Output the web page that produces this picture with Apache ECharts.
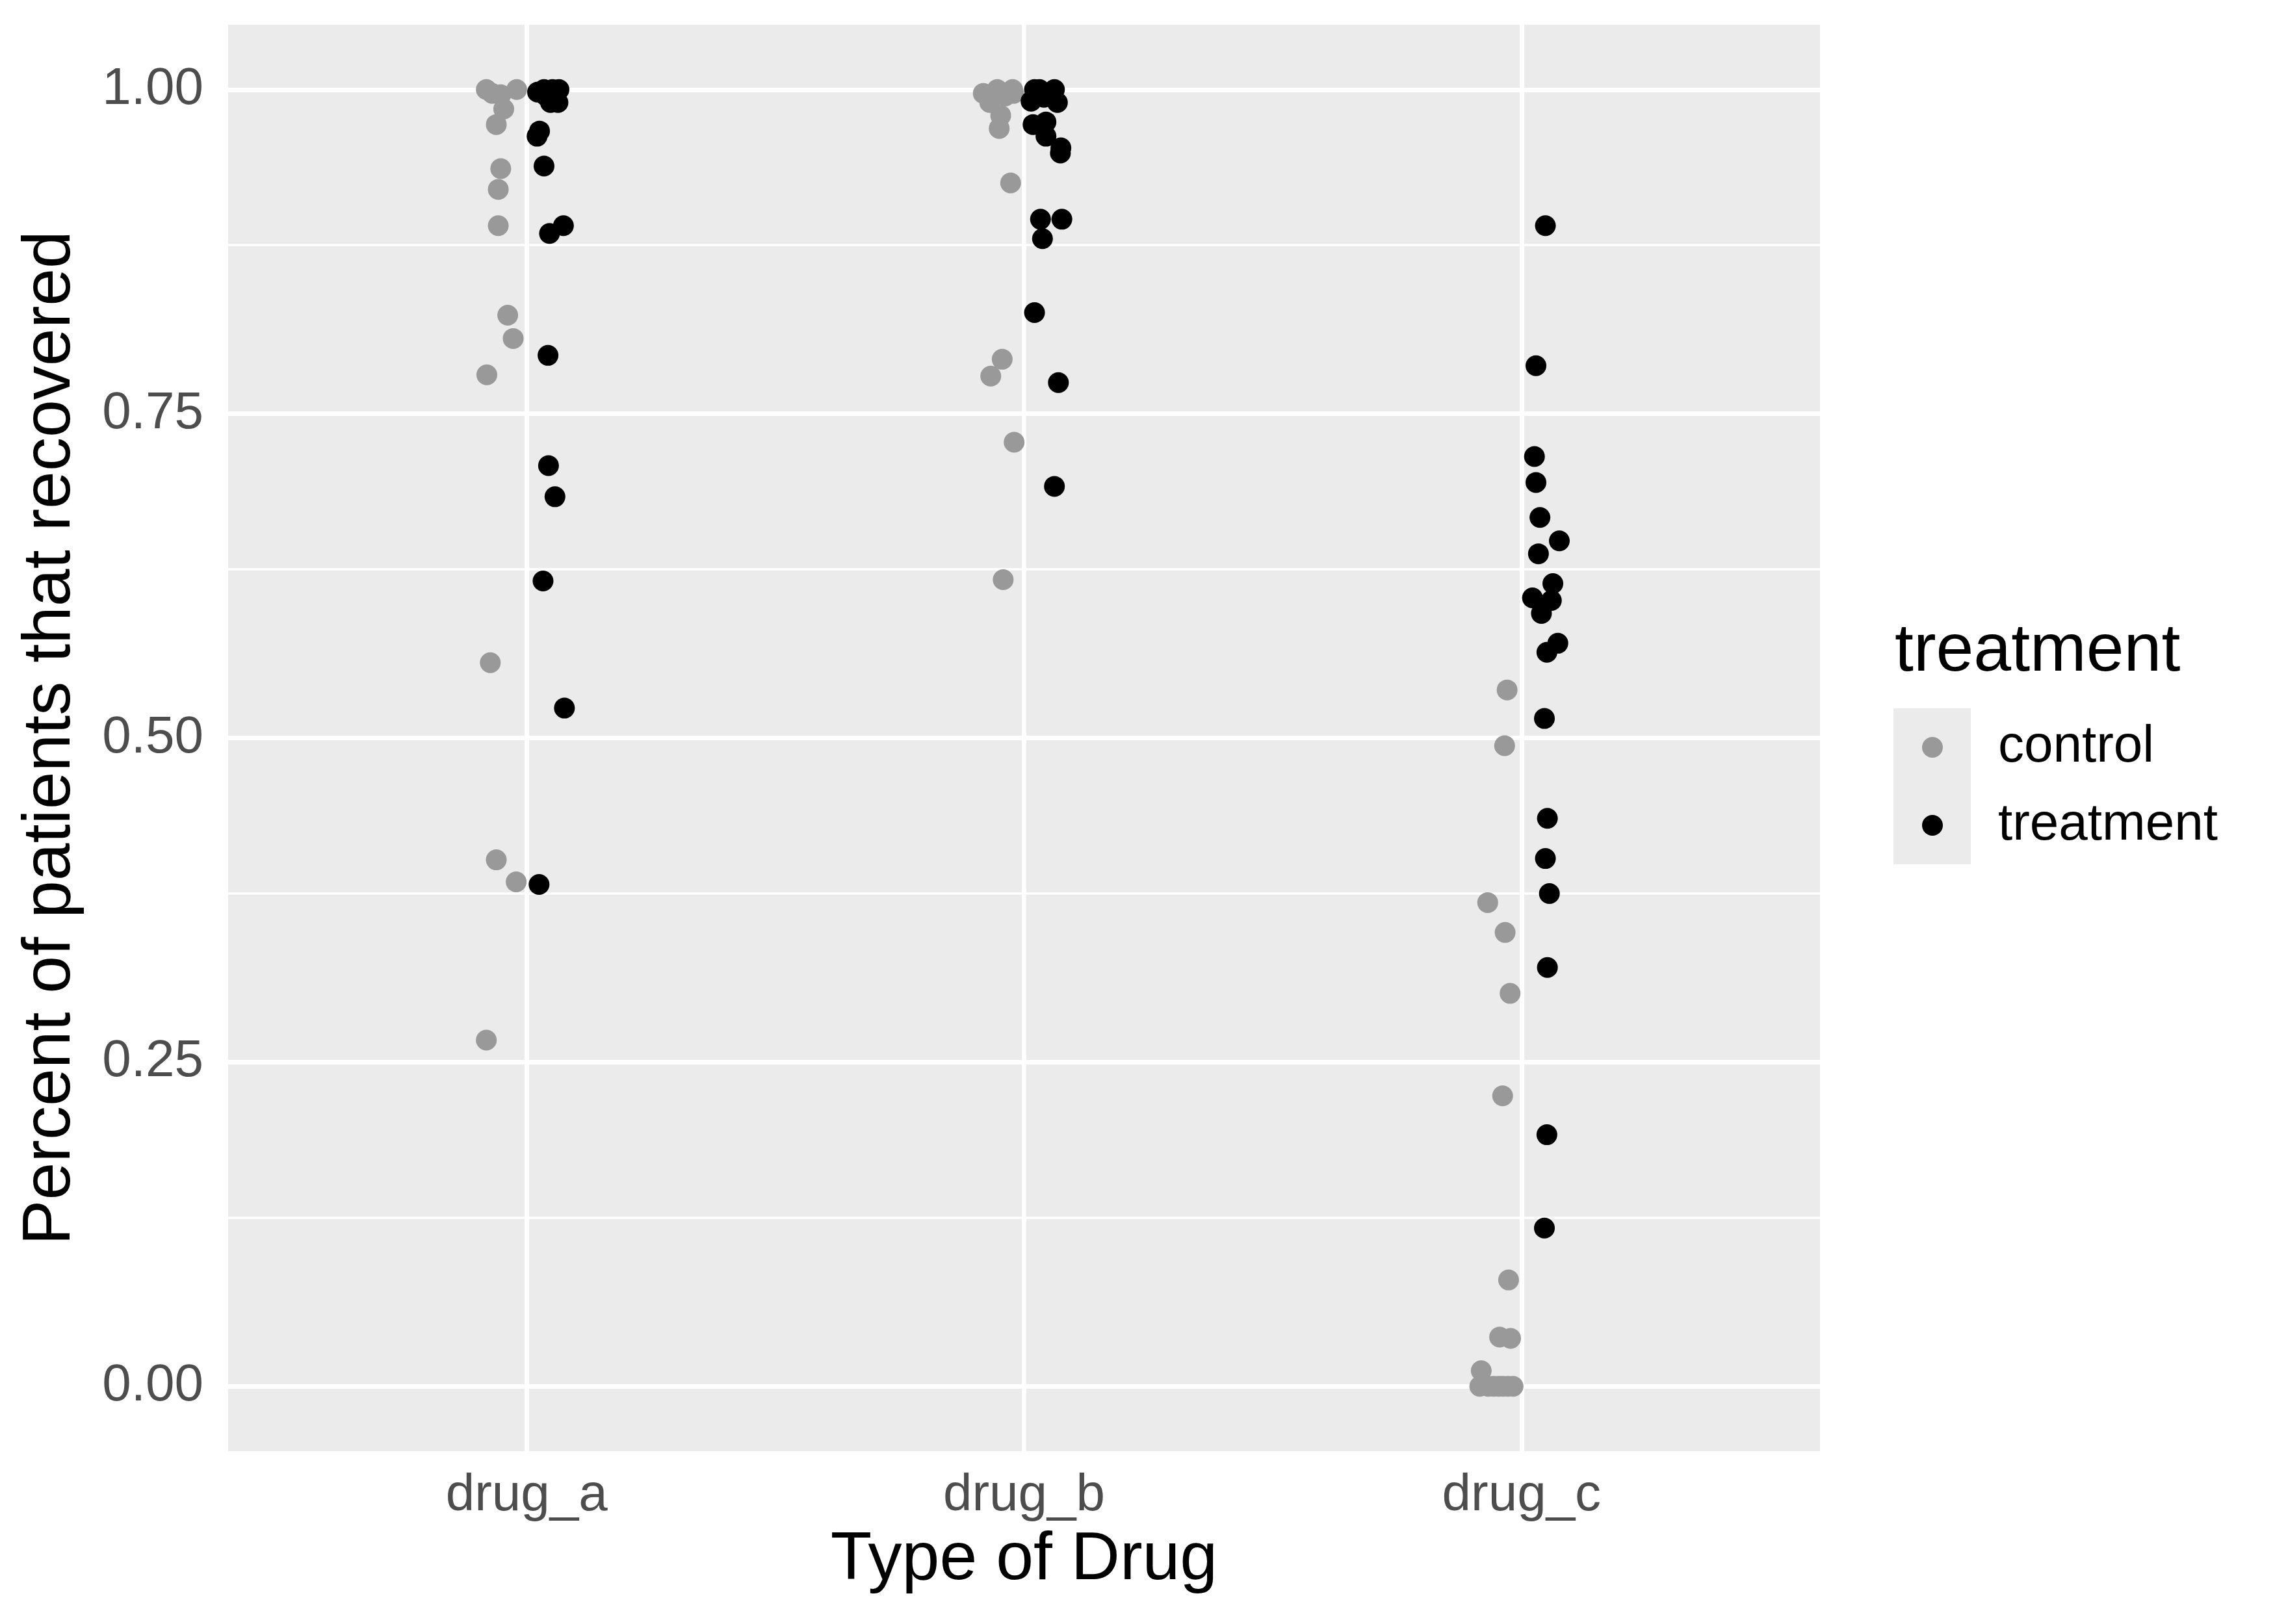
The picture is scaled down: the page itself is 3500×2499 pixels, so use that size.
<!DOCTYPE html>
<html>
<head>
<meta charset="utf-8">
<script src="https://cdn.jsdelivr.net/npm/echarts@6/dist/echarts.min.js"></script>
<style>html,body{margin:0;padding:0;background:#fff}#c{width:3500px;height:2499px}</style>
</head>
<body>
<div id="c"></div>
<script>
// ---- data ----
const categories = ['drug_a', 'drug_b', 'drug_c'];
const yTicks = [0, 0.25, 0.5, 0.75, 1];
const yMinor = [0.125, 0.375, 0.625, 0.875];

// drug_a
const ctrlA = [1.00, 0.996, 1.00, 0.985, 0.973, 0.997, 0.939, 0.923, 0.895, 0.826, 0.808, 0.780, 0.558, 0.406, 0.389, 0.267];
const ctrlAJit = [-0.081, -0.052, -0.020, -0.046, -0.061, -0.069, -0.052, -0.057, -0.057, -0.038, -0.027, -0.080, -0.073, -0.061, -0.021, -0.081];
const trtA = [0.998, 1.00, 1.00, 1.00, 0.990, 0.990, 0.995, 0.968, 0.964, 0.941, 0.895, 0.889, 0.795, 0.710, 0.686, 0.621, 0.523, 0.387];
const trtAJit = [0.022, 0.035, 0.052, 0.065, 0.063, 0.048, 0.039, 0.026, 0.021, 0.035, 0.074, 0.046, 0.043, 0.044, 0.057, 0.033, 0.076, 0.025];

// drug_b
const ctrlB = [0.997, 1.00, 1.00, 0.990, 0.995, 0.980, 0.970, 0.997, 0.928, 0.792, 0.779, 0.728, 0.622];
const ctrlBJit = [-0.082, -0.054, -0.023, -0.069, -0.038, -0.047, -0.050, -0.021, -0.027, -0.044, -0.067, -0.020, -0.042];
const trtB = [1.00, 1.00, 0.991, 0.990, 0.994, 1.00, 0.973, 0.975, 0.964, 0.951, 0.955, 0.900, 0.900, 0.885, 0.828, 0.774, 0.694];
const trtBJit = [0.021, 0.061, 0.014, 0.067, 0.040, 0.031, 0.018, 0.044, 0.044, 0.073, 0.074, 0.033, 0.076, 0.037, 0.021, 0.069, 0.061];

// drug_c
const ctrlC = [0.537, 0.494, 0.373, 0.350, 0.303, 0.224, 0.082, 0.038, 0.037, 0.012, 0, 0, 0, 0, 0, 0, 0];
const ctrlCJit = [-0.029, -0.034, -0.068, -0.033, -0.023, -0.038, -0.026, -0.044, -0.022, -0.081, -0.084, -0.067, -0.056, -0.046, -0.037, -0.027, -0.017];
const trtC = [0.895, 0.787, 0.717, 0.697, 0.670, 0.652, 0.642, 0.619, 0.608, 0.606, 0.596, 0.573, 0.566, 0.515, 0.438, 0.407, 0.380, 0.323, 0.194, 0.122];
const trtCJit = [0.048, 0.029, 0.026, 0.029, 0.037, 0.076, 0.034, 0.063, 0.022, 0.060, 0.040, 0.073, 0.051, 0.046, 0.052, 0.048, 0.056, 0.052, 0.051, 0.046];

// ---- build ----
function pts(idx, vals, jit) { return vals.map((v, i) => [idx + jit[i], v]); }
const controlData = [].concat(pts(0, ctrlA, ctrlAJit), pts(1, ctrlB, ctrlBJit), pts(2, ctrlC, ctrlCJit));
const treatData = [].concat(pts(0, trtA, trtAJit), pts(1, trtB, trtBJit), pts(2, trtC, trtCJit));

const FONT = 'Liberation Sans, Arial, Helvetica, sans-serif';
const GREY = '#999999', BLACK = '#000000';

function keyIcon(color) {
  const svg = '<svg xmlns="http://www.w3.org/2000/svg" width="156" height="120" viewBox="0 0 156 120">' +
    '<rect x="0" y="0" width="119" height="120" fill="#EBEBEB"/>' +
    '<circle cx="60" cy="60" r="16" fill="' + color + '"/></svg>';
  return 'image://data:image/svg+xml;charset=utf-8,' + encodeURIComponent(svg);
}

const gridLines = [].concat(
  yTicks.map(v => ({ yAxis: v, lineStyle: { width: 7 } })),
  yMinor.map(v => ({ yAxis: v, lineStyle: { width: 3.5 } })),
  categories.map((c, i) => ({ xAxis: i, lineStyle: { width: 7 } }))
);

const chart = echarts.init(document.getElementById('c'), null, { renderer: 'canvas', width: 3500, height: 2499 });
chart.setOption({
  animation: false,
  backgroundColor: '#FFFFFF',
  textStyle: { fontFamily: FONT },
  title: {
    text: 'treatment', left: 2915, top: 951, padding: 0,
    textStyle: { fontSize: 104, fontWeight: 'normal', color: '#000', fontFamily: FONT }
  },
  legend: {
    orient: 'vertical', left: 2913, top: 1090, padding: 0,
    itemWidth: 156, itemHeight: 120, itemGap: 0,
    textStyle: { fontSize: 80, color: '#000', fontFamily: FONT },
    data: [{ name: 'control', icon: keyIcon(GREY) }, { name: 'treatment', icon: keyIcon(BLACK) }]
  },
  grid: {
    left: 351, right: 700, top: 38, bottom: 266,
    show: true, backgroundColor: '#EBEBEB', borderWidth: 0
  },
  xAxis: {
    type: 'value', min: -0.6, max: 2.6,
    axisLine: { show: false },
    splitLine: { show: false },
    axisTick: { show: true, length: 20, customValues: [0, 1, 2], lineStyle: { color: '#333333', width: 6.5 } },
    axisLabel: {
      customValues: [0, 1, 2], margin: 29, fontSize: 80, color: '#4D4D4D', fontFamily: FONT,
      formatter: v => categories[Math.round(v)]
    },
    name: 'Type of Drug', nameLocation: 'middle', nameGap: 116,
    nameTextStyle: { fontSize: 104, color: '#000', fontFamily: FONT }
  },
  yAxis: {
    type: 'value', min: -0.05, max: 1.05,
    axisLine: { show: false },
    splitLine: { show: false },
    axisTick: { show: true, length: 20, customValues: yTicks, lineStyle: { color: '#333333', width: 6.5 } },
    axisLabel: {
      customValues: yTicks, margin: 38, fontSize: 80, color: '#4D4D4D', fontFamily: FONT,
      formatter: v => v.toFixed(2)
    },
    name: 'Percent of patients that recovered', nameLocation: 'middle', nameGap: 221, nameRotate: 90,
    nameTextStyle: { fontSize: 104, color: '#000', fontFamily: FONT }
  },
  series: [
    {
      name: 'gridlines', type: 'scatter', data: [], z: 1, silent: true,
      markLine: {
        z: 1, silent: true, symbol: 'none', label: { show: false }, animation: false,
        lineStyle: { color: '#FFFFFF', type: 'solid' },
        data: gridLines
      }
    },
    {
      name: 'control', type: 'scatter', z: 3, symbol: 'circle', symbolSize: 32, clip: false,
      itemStyle: { color: GREY, opacity: 1 }, data: controlData
    },
    {
      name: 'treatment', type: 'scatter', z: 4, symbol: 'circle', symbolSize: 32, clip: false,
      itemStyle: { color: BLACK, opacity: 1 }, data: treatData
    }
  ]
});
</script>
</body>
</html>
